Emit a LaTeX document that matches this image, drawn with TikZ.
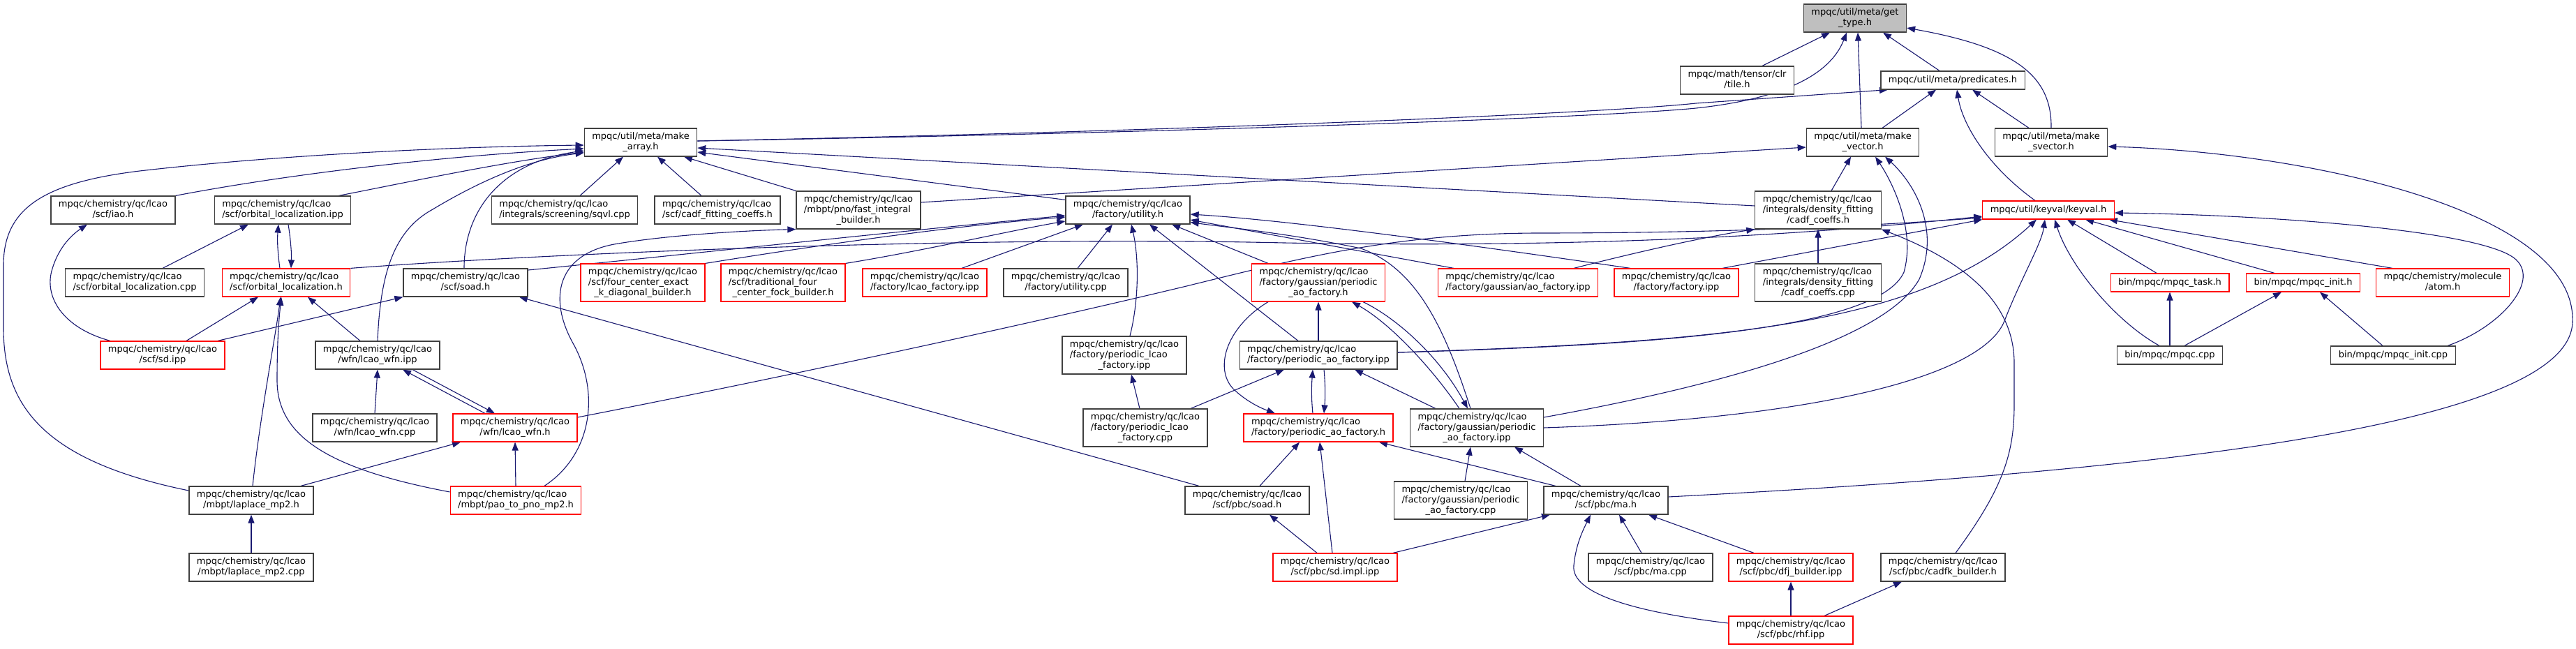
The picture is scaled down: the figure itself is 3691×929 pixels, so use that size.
\documentclass[tikz,border=0pt]{standalone}
\usepackage{fontspec}
\setmainfont{DejaVu Sans}
\usetikzlibrary{arrows.meta}
\definecolor{mblue}{HTML}{191970}
\definecolor{bgrey}{HTML}{404040}
\definecolor{fgrey}{HTML}{BFBFBF}
\pgfdeclarelayer{back}
\pgfdeclarelayer{bg}
\pgfsetlayers{back,bg,main}
\newcommand{\dlab}[2]{\begin{tabular}{@{}l@{}}#1\\\multicolumn{1}{@{}c@{}}{#2}\end{tabular}}
\tikzset{
  nb/.style={draw=bgrey, line width=1.2pt, fill=white, align=center, inner xsep=11pt, inner ysep=0pt, font=\fontsize{13}{15}\selectfont},
  nr/.style={nb, draw=red},
  h1/.style={minimum height=26pt},
  h2/.style={minimum height=40pt},
  h3/.style={minimum height=54pt},
  e/.style={draw=mblue, line width=1.1pt, -{Triangle[length=12pt,width=9pt]}}
}
\def\L{mpqc/chemistry/qc/lcao}
\begin{document}
\begin{tikzpicture}[x=1pt,y=-1pt]
\useasboundingbox (0,0) rectangle (3691,929);
\begin{pgfonlayer}{back}
\fill[white] (0,0) rectangle (3691,929);
\end{pgfonlayer}
% row 1-3
\node[nb,h2,fill=fgrey] (gettype) at (2658,26) {\dlab{mpqc/util/meta/get}{\_type.h}};
\node[nb,h2] (tile) at (2489,115) {\dlab{mpqc/math/tensor/clr}{/tile.h}};
\node[nb,h1] (predicates) at (2798,115) {mpqc/util/meta/predicates.h};
\node[nb,h2] (makearray) at (918,204) {\dlab{mpqc/util/meta/make}{\_array.h}};
\node[nb,h2] (makevector) at (2669,204) {\dlab{mpqc/util/meta/make}{\_vector.h}};
\node[nb,h2] (makesvector) at (2939,204) {\dlab{mpqc/util/meta/make}{\_svector.h}};
% row 4
\node[nb,h2] (iao) at (162,301) {\dlab{\L}{/scf/iao.h}};
\node[nb,h2] (olipp) at (405,301) {\dlab{\L}{/scf/orbital\_localization.ipp}};
\node[nb,h2] (sqvl) at (809,301) {\dlab{\L}{/integrals/screening/sqvl.cpp}};
\node[nb,h2] (cadffit) at (1028,301) {\dlab{\L}{/scf/cadf\_fitting\_coeffs.h}};
\node[nb,h3] (fastint) at (1230,301) {\dlab{\L\\/mbpt/pno/fast\_integral}{\_builder.h}};
\node[nb,h2] (utilh) at (1616,301) {\dlab{\L}{/factory/utility.h}};
\node[nb,h3] (cadfh) at (2605,301) {\dlab{\L\\/integrals/density\_fitting}{/cadf\_coeffs.h}};
\node[nr,h1] (keyval) at (2935,301) {mpqc/util/keyval/keyval.h};
% row 5
\node[nb,h2] (olcpp) at (193,405) {\dlab{\L}{/scf/orbital\_localization.cpp}};
\node[nr,h2] (olh) at (410,405) {\dlab{\L}{/scf/orbital\_localization.h}};
\node[nb,h2] (soad) at (667,405) {\dlab{\L}{/scf/soad.h}};
\node[nr,h3] (fourc) at (921,405) {\dlab{\L\\/scf/four\_center\_exact}{\_k\_diagonal\_builder.h}};
\node[nr,h3] (tradf) at (1122,405) {\dlab{\L\\/scf/traditional\_four}{\_center\_fock\_builder.h}};
\node[nr,h2] (lcaofipp) at (1325,405) {\dlab{\L}{/factory/lcao\_factory.ipp}};
\node[nb,h2] (utilcpp) at (1527,405) {\dlab{\L}{/factory/utility.cpp}};
\node[nr,h3] (gpafh) at (1889,405) {\dlab{\L\\/factory/gaussian/periodic}{\_ao\_factory.h}};
\node[nr,h2] (aofipp) at (2175,405) {\dlab{\L}{/factory/gaussian/ao\_factory.ipp}};
\node[nr,h2] (factipp) at (2402,405) {\dlab{\L}{/factory/factory.ipp}};
\node[nb,h3] (cadfcpp) at (2605,405) {\dlab{\L\\/integrals/density\_fitting}{/cadf\_coeffs.cpp}};
\node[nr,h1] (mtask) at (3109,405) {bin/mpqc/mpqc\_task.h};
\node[nr,h1] (minit) at (3300,405) {bin/mpqc/mpqc\_init.h};
\node[nr,h2] (atom) at (3500,405) {\dlab{mpqc/chemistry/molecule}{/atom.h}};
% row 6
\node[nr,h2] (sdipp) at (233,509) {\dlab{\L}{/scf/sd.ipp}};
\node[nb,h2] (wfnipp) at (541,509) {\dlab{\L}{/wfn/lcao\_wfn.ipp}};
\node[nb,h3] (plfipp) at (1611,509) {\dlab{\L\\/factory/periodic\_lcao}{\_factory.ipp}};
\node[nb,h2] (pafipp) at (1889,509) {\dlab{\L}{/factory/periodic\_ao\_factory.ipp}};
\node[nb,h1] (mpqccpp) at (3109,509) {bin/mpqc/mpqc.cpp};
\node[nb,h1] (minitcpp) at (3429,509) {bin/mpqc/mpqc\_init.cpp};
% row 7
\node[nb,h2] (wfncpp) at (537,613) {\dlab{\L}{/wfn/lcao\_wfn.cpp}};
\node[nr,h2] (wfnh) at (738,613) {\dlab{\L}{/wfn/lcao\_wfn.h}};
\node[nb,h3] (plfcpp) at (1641,613) {\dlab{\L\\/factory/periodic\_lcao}{\_factory.cpp}};
\node[nr,h2] (pafh) at (1889,613) {\dlab{\L}{/factory/periodic\_ao\_factory.h}};
\node[nb,h3] (gpafipp) at (2116,613) {\dlab{\L\\/factory/gaussian/periodic}{\_ao\_factory.ipp}};
% row 8
\node[nb,h2] (lapmp2h) at (360,717) {\dlab{\L}{/mbpt/laplace\_mp2.h}};
\node[nr,h2] (pao) at (739,717) {\dlab{\L}{/mbpt/pao\_to\_pno\_mp2.h}};
\node[nb,h2] (pbcsoad) at (1787,717) {\dlab{\L}{/scf/pbc/soad.h}};
\node[nb,h3] (gpafcpp) at (2093,717) {\dlab{\L\\/factory/gaussian/periodic}{\_ao\_factory.cpp}};
\node[nb,h2] (mah) at (2301,717) {\dlab{\L}{/scf/pbc/ma.h}};
% row 9
\node[nb,h2] (lapcpp) at (360,813) {\dlab{\L}{/mbpt/laplace\_mp2.cpp}};
\node[nr,h2] (sdimpl) at (1913,813) {\dlab{\L}{/scf/pbc/sd.impl.ipp}};
\node[nb,h2] (macpp) at (2365,813) {\dlab{\L}{/scf/pbc/ma.cpp}};
\node[nr,h2] (dfj) at (2566,813) {\dlab{\L}{/scf/pbc/dfj\_builder.ipp}};
\node[nb,h2] (cadfk) at (2784,813) {\dlab{\L}{/scf/pbc/cadfk\_builder.h}};
% row 10
\node[nr,h2] (rhf) at (2566,903) {\dlab{\L}{/scf/pbc/rhf.ipp}};

\begin{pgfonlayer}{bg}
% into get_type
\draw[e] ([xshift=36pt]tile.north) -- ([xshift=-36pt]gettype.south);
\draw[e] ([yshift=2pt]makearray.east) .. controls (1700,190) and (2300,168) .. (2430,155) .. controls (2570,140) and (2625,100) .. ([xshift=-12pt]gettype.south);
\draw[e] ([xshift=-2pt]makevector.north) -- ([xshift=4pt]gettype.south);
\draw[e] ([xshift=-19pt]predicates.north) -- ([xshift=40pt]gettype.south);
\draw[e] (makesvector.north) .. controls (2940,110) and (2890,68) .. ([yshift=-14pt]gettype.east);
% into predicates
\draw[e] ([yshift=2pt]makearray.east) .. controls (1700,188) and (2300,162) .. (2430,148) -- ([xshift=-93pt]predicates.south);
\draw[e] ([xshift=28pt]makevector.north) -- ([xshift=-24pt]predicates.south);
\draw[e] ([xshift=-19pt]keyval.north) .. controls (2850,240) and (2812,180) .. ([xshift=6pt]predicates.south);
\draw[e] ([xshift=-32pt]makesvector.north) -- ([xshift=28pt]predicates.south);
% into make_array
\draw[e] ([yshift=-6pt]utilh.north west) -- ([yshift=-14pt]makearray.east);
\draw[e] ([yshift=6pt]cadfh.west) -- ([yshift=-8pt]makearray.east);
\draw[e] (iao.north east) .. controls (400,252) and (620,224) .. ([yshift=-9pt]makearray.west);
\draw[e] ([xshift=-18pt]olipp.north east) .. controls (580,262) and (720,232) .. ([yshift=-14pt]makearray.west);
\draw[e] ([yshift=14pt]lapmp2h.west) .. controls (60,660) and (5,580) .. (5,470) -- (5,380) .. controls (5,300) and (60,262) .. (200,245) .. controls (400,222) and (650,210) .. ([yshift=-4pt]makearray.west);
\draw[e] (wfnipp.north) .. controls (545,390) and (565,330) .. (620,300) .. controls (690,258) and (760,228) .. ([yshift=-15pt]makearray.west);
\draw[e] ([xshift=-2pt]soad.north) .. controls (665,300) and (720,232) .. ([yshift=-12pt]makearray.west);
\draw[e] ([xshift=22pt]sqvl.north) -- ([xshift=-25pt]makearray.south);
\draw[e] ([xshift=-23pt]cadffit.north) -- ([xshift=24pt]makearray.south);
\draw[e] (fastint.north west) -- ([xshift=62pt]makearray.south);
% into make_vector
\draw[e] ([yshift=11pt]fastint.east) -- ([yshift=-7pt]makevector.west);
\draw[e] ([xshift=19pt]cadfh.north) -- ([xshift=-17pt]makevector.south);
\draw[e] ([yshift=4pt]pafipp.east) .. controls (2350,495) and (2690,475) .. (2728,390) .. controls (2745,330) and (2712,262) .. ([xshift=18pt]makevector.south);
\draw[e] ([yshift=15pt]gpafipp.east) .. controls (2450,555) and (2700,490) .. (2750,400) .. controls (2780,330) and (2745,265) .. ([xshift=32pt]makevector.south);
% into keyval
\draw[e] ([yshift=4pt]pafipp.east) .. controls (2450,490) and (2750,470) .. ([xshift=-17pt]keyval.south);
\draw[e] (gpafipp.east) .. controls (2600,600) and (2840,540) .. (2872,460) .. controls (2895,400) and (2925,350) .. ([xshift=-5pt]keyval.south);
\draw[e] ([xshift=-15pt]mpqccpp.north) .. controls (3030,460) and (2965,380) .. ([xshift=9pt]keyval.south);
\draw[e] ([xshift=-19pt]mtask.north) -- ([xshift=27pt]keyval.south);
\draw[e] ([xshift=-41pt]minit.north) -- ([xshift=53pt]keyval.south);
\draw[e] ([xshift=-72pt]atom.north) -- ([xshift=-8pt]keyval.south east);
\draw[e] ([xshift=78pt]minitcpp.north) .. controls (3580,470) and (3640,405) .. (3605,372) .. controls (3560,330) and (3250,308) .. ([yshift=-4pt]keyval.east);
\draw[e] ([xshift=66pt]factipp.north) -- (keyval.south west);
\draw[e] (olh.north east) .. controls (800,362) and (1400,338) .. (1840,348) .. controls (2300,356) and (2600,335) .. ([yshift=-9pt]keyval.west);
\draw[e] ([yshift=15pt]wfnh.east) .. controls (1100,545) and (1450,470) .. (1700,410) .. controls (1870,368) and (2000,335) .. (2200,334) .. controls (2500,334) and (2700,322) .. ([yshift=-11pt]keyval.west);
% into utility.h
\draw[e] ([yshift=18pt]soad.east) .. controls (950,368) and (1300,330) .. ([yshift=-8pt]utilh.west);
\draw[e] (fourc.north east) .. controls (1150,355) and (1350,325) .. ([yshift=-10pt]utilh.west);
\draw[e] (tradf.north east) .. controls (1320,360) and (1450,330) .. ([yshift=-16pt]utilh.west);
\draw[e] ([xshift=53pt]lcaofipp.north) -- ([xshift=-64pt]utilh.south);
\draw[e] ([xshift=17pt]utilcpp.north) -- ([xshift=-22pt]utilh.south);
\draw[e] ([xshift=8pt]plfipp.north) .. controls (1632,430) and (1632,370) .. ([xshift=5pt]utilh.south);
\draw[e] ([xshift=-29pt]pafipp.north) -- ([xshift=31pt]utilh.south);
\draw[e] ([xshift=-72pt]gpafh.north) -- ([xshift=63pt]utilh.south);
\draw[e] ([xshift=-9pt]gpafipp.north) .. controls (2070,470) and (2030,385) .. (1950,356) .. controls (1850,335) and (1760,326) .. ([yshift=3pt]utilh.south east);
\draw[e] ([xshift=-92pt]aofipp.north) -- ([yshift=-14pt]utilh.east);
\draw[e] ([xshift=-66pt]factipp.north) .. controls (2100,350) and (1850,316) .. ([yshift=-6pt]utilh.east);
% into fast_integral_builder
\draw[e] ([xshift=41pt]pao.north) .. controls (850,650) and (860,560) .. (820,490) .. controls (785,425) and (800,365) .. (880,350) .. controls (960,336) and (1080,330) .. (fastint.south west);
% into lcao_wfn.h / ipp
\draw[e] (pao.north) -- (wfnh.south);
\draw[e] ([xshift=71pt]lapmp2h.north) -- ([xshift=-78pt]wfnh.south);
\draw[e] ([xshift=50pt]wfnipp.south) -- ([xshift=-29pt]wfnh.north);
\draw[e] ([xshift=-43pt]wfnh.north) -- ([xshift=36pt]wfnipp.south);
\draw[e] (wfncpp.north) -- (wfnipp.south);
% into orbital_localization
\draw[e] ([yshift=12pt]pao.west) .. controls (470,672) and (397,625) .. (397,545) .. controls (397,485) and (400,455) .. ([xshift=-7pt]olh.south);
\draw[e] ([xshift=2pt]lapmp2h.north) .. controls (372,600) and (395,480) .. ([xshift=-8pt]olh.south);
\draw[e] ([xshift=-25pt]wfnipp.north) -- ([xshift=31pt]olh.south);
\draw[e] ([xshift=34pt]sdipp.north) -- ([xshift=-40pt]olh.south);
\draw[e] ([xshift=8pt]olipp.south) .. controls (416,340) and (418,362) .. ([xshift=7pt]olh.north);
\draw[e] ([xshift=-9pt]olh.north) .. controls (398,362) and (397,345) .. ([xshift=-6pt]olipp.south);
\draw[e] ([xshift=40pt]olcpp.north) -- ([xshift=-49pt]olipp.south);
% laplace
\draw[e] (lapcpp.north) -- (lapmp2h.south);
% iao, soad
\draw[e] ([xshift=-75pt]sdipp.north) .. controls (90,470) and (62,425) .. (75,385) .. controls (85,352) and (105,335) .. ([xshift=-37pt]iao.south);
\draw[e] ([xshift=79pt]sdipp.north) -- (soad.south west);
\draw[e] ([xshift=-69pt]pbcsoad.north) -- ([xshift=77pt]soad.south);
% periodic lcao / ao factory
\draw[e] ([xshift=-8pt]plfcpp.north) -- ([xshift=10pt]plfipp.south);
\draw[e] ([xshift=65pt]plfcpp.north) -- ([xshift=-49pt]pafipp.south);
\draw[e] (pafipp.north) -- (gpafh.south);
\draw[e] ([xshift=-8pt]pafh.north) .. controls (1879,572) and (1879,555) .. ([xshift=-8pt]pafipp.south);
\draw[e] ([xshift=8pt]pafipp.south) .. controls (1899,550) and (1899,570) .. ([xshift=8pt]pafh.north);
\draw[e] ([xshift=-59pt]gpafipp.north) -- ([xshift=52pt]pafipp.south);
\draw[e] ([xshift=64pt]gpafh.south) .. controls (2000,455) and (2062,510) .. ([xshift=-13pt]gpafipp.north);
\draw[e] ([xshift=-25pt]gpafipp.north) .. controls (2050,525) and (1990,462) .. ([xshift=48pt]gpafh.south);
\draw[e] ([xshift=-72pt]gpafh.south) .. controls (1755,470) and (1738,532) .. (1770,560) .. controls (1790,578) and (1810,586) .. ([xshift=-62pt]pafh.north);
\draw[e] ([xshift=18pt]pbcsoad.north) -- ([xshift=-27pt]pafh.south);
\draw[e] ([xshift=-4pt]sdimpl.north) -- ([xshift=2pt]pafh.south);
\draw[e] ([xshift=-72pt]mah.north) -- ([xshift=87pt]pafh.south);
\draw[e] ([xshift=-26pt]sdimpl.north) -- ([xshift=32pt]pbcsoad.south);
% ma.h
\draw[e] ([xshift=83pt]sdimpl.north) -- ([xshift=-80pt]mah.south);
\draw[e] ([xshift=-13pt]macpp.north) -- ([xshift=19pt]mah.south);
\draw[e] ([xshift=-53pt]dfj.north) -- ([xshift=61pt]mah.south);
\draw[e] ([yshift=10pt]rhf.west) .. controls (2350,878) and (2250,852) .. (2255,810) .. controls (2258,780) and (2268,760) .. ([xshift=-22pt]mah.south);
\draw[e] ([xshift=6pt]gpafcpp.north) -- ([xshift=-9pt]gpafipp.south);
\draw[e] ([xshift=-36pt]mah.north) -- ([xshift=54pt]gpafipp.south);
\draw[e] ([yshift=5pt]mah.east) .. controls (3000,680) and (3686,620) .. (3686,460) .. controls (3690,300) and (3300,218) .. ([yshift=-6pt]makesvector.east);
% rhf, cadf
\draw[e] (rhf.north) -- (dfj.south);
\draw[e] ([xshift=48pt]rhf.north) -- ([xshift=-59pt]cadfk.south);
\draw[e] ([xshift=18pt]cadfk.north) .. controls (2870,700) and (2886,650) .. (2886,580) -- (2886,520) .. controls (2886,420) and (2790,365) .. (cadfh.south east);
\draw[e] ([xshift=80pt]aofipp.north) .. controls (2350,360) and (2450,338) .. (cadfh.south west);
\draw[e] (cadfcpp.north) -- (cadfh.south);
% mpqc binaries
\draw[e] (mpqccpp.north) -- (mtask.south);
\draw[e] ([xshift=21pt]mpqccpp.north) -- ([xshift=-31pt]minit.south);
\draw[e] ([xshift=-15pt]minitcpp.north) -- ([xshift=24pt]minit.south);
\end{pgfonlayer}
\end{tikzpicture}
\end{document}
